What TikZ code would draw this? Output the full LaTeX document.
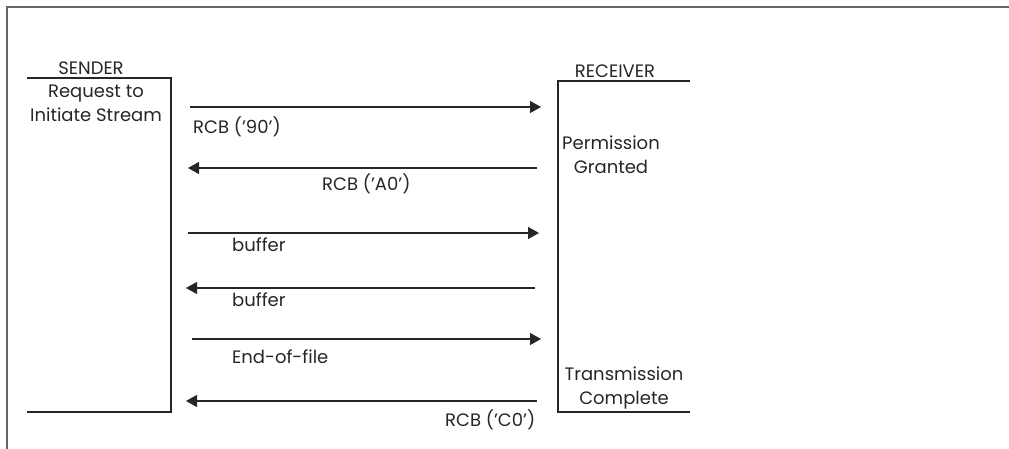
\documentclass[tikz,border=0pt]{standalone}
\usepackage{fontspec}
\setmainfont{Poppins}
\usetikzlibrary{arrows.meta}
\begin{document}
\begin{tikzpicture}[x=1pt,y=-1pt,
  lbl/.style={font=\fontsize{18}{24}\selectfont, inner sep=0pt, text=black!85},
  frame/.style={draw=black!60, line width=1.6pt},
  lane/.style={draw=black!85, line width=1.3pt},
  msg/.style={draw=black!85, line width=1.3pt, -{Triangle[length=11pt,width=12pt]}}]
\useasboundingbox (0,0) rectangle (1009,449);
\draw[frame] (7,449) -- (7,7) -- (1009,7);
% sender
\draw[lane] (27,78) -- (171,78) -- (171,412) -- (27,412);
\node[lbl] (sender) at (91,68) {SENDER};
\node[lbl, align=center] (req) at (96,103) {Request to\\Initiate Stream};
% receiver
\draw[lane] (690,81) -- (558,81) -- (558,412) -- (690,412);
\node[lbl] (receiver) at (615,71) {RECEIVER};
\node[lbl, align=center] (perm) at (611,155) {Permission\\Granted};
\node[lbl, align=center] (trans) at (624,388) {Transmission\\Complete};
% message ends
\coordinate (s1) at (190,107); \coordinate (r1) at (541,107);
\coordinate (s2) at (188,168); \coordinate (r2) at (537,168);
\coordinate (s3) at (188,233); \coordinate (r3) at (539,233);
\coordinate (s4) at (186,288); \coordinate (r4) at (535,288);
\coordinate (s5) at (192,339); \coordinate (r5) at (541,339);
\coordinate (s6) at (186,401); \coordinate (r6) at (537,401);
\draw[msg] (s1) -- (r1);
\draw[msg] (r2) -- (s2);
\draw[msg] (s3) -- (r3);
\draw[msg] (r4) -- (s4);
\draw[msg] (s5) -- (r5);
\draw[msg] (r6) -- (s6);
\node[lbl, anchor=west] (l1) at (193,127) {RCB (’90’)};
\node[lbl, anchor=west] (l2) at (322,184) {RCB (’A0’)};
\node[lbl, anchor=west] (l3) at (232,245) {buffer};
\node[lbl, anchor=west] (l4) at (232,300) {buffer};
\node[lbl, anchor=west] (l5) at (232,357) {End-of-file};
\node[lbl, anchor=west] (l6) at (445,420) {RCB (’C0’)};
\end{tikzpicture}
\end{document}
